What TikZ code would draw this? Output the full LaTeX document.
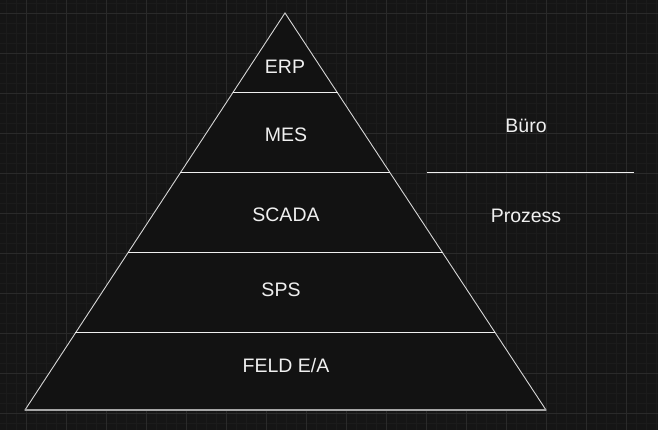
\documentclass[tikz,border=0pt]{standalone}
\usepackage{fontspec}
\setmainfont{Liberation Sans}
\usetikzlibrary{positioning, calc}
\definecolor{canvas}{HTML}{151515}
\definecolor{gridminor}{HTML}{1B1B1B}
\definecolor{gridmajor}{HTML}{2A2A2A}
\definecolor{pyrfill}{HTML}{121212}
\definecolor{edge}{HTML}{D6D6D6}
\definecolor{ink}{HTML}{F0F0F0}

\begin{document}
\begin{tikzpicture}[x=1pt, y=-1pt,
        minor grid/.style = {draw=gridminor, line width=0.7pt},
        major grid/.style = {draw=gridmajor, line width=0.9pt},
        pyramid/.style    = {draw=edge, fill=pyrfill, line width=0.9pt, line join=miter},
        layer/.style      = {draw=ink, line width=1pt},
        label/.style      = {text=ink, inner sep=0pt, font=\fontsize{19.5}{22}\selectfont}]

    \useasboundingbox[fill=canvas] (0,0) rectangle (658,430);

    % background grid
    \foreach \gx in {6,16,...,656}
        \draw[minor grid] (\gx,0) -- (\gx,430);
    \foreach \gy in {3,13,...,423}
        \draw[minor grid] (0,\gy) -- (658,\gy);
    \foreach \gx in {26,66,...,626}
        \draw[major grid] (\gx,0) -- (\gx,430);
    \foreach \gy in {13,53,...,413}
        \draw[major grid] (0,\gy) -- (658,\gy);

    % the pyramid
    \coordinate (top) at (285,13);
    \coordinate (bl)  at (25,410);
    \coordinate (br)  at (546,410);
    \filldraw[pyramid] (top) -- (bl) -- (br) -- cycle;
    \draw[draw=gray!70, line width=1.6pt] (bl) -- (br);

    % layer borders
    \foreach \t [count=\i] in {0.2015,0.403,0.6045,0.806} {
        \path ($(top)!\t!(bl)$) coordinate (l\i);
        \path ($(top)!\t!(br)$) coordinate (r\i);
        \draw[layer] (l\i) -- (r\i);
    }

    % layer names
    \node[label] (erp)   at (285,67)  {ERP};
    \node[label] (mes)   at (286,135) {MES};
    \node[label] (scada) at (286,215) {SCADA};
    \node[label] (sps)   at (281,290) {SPS};
    \node[label] (feld)  at (286,366) {FELD E/A};

    % office / process split
    \node[label] (buero)   at (526,126) {Büro};
    \node[label] (prozess) at (526,216) {Prozess};
    \coordinate (sl) at (427,173);
    \coordinate (sr) at (634,173);
    \draw[layer] (sl) -- (sr);

\end{tikzpicture}
\end{document}
